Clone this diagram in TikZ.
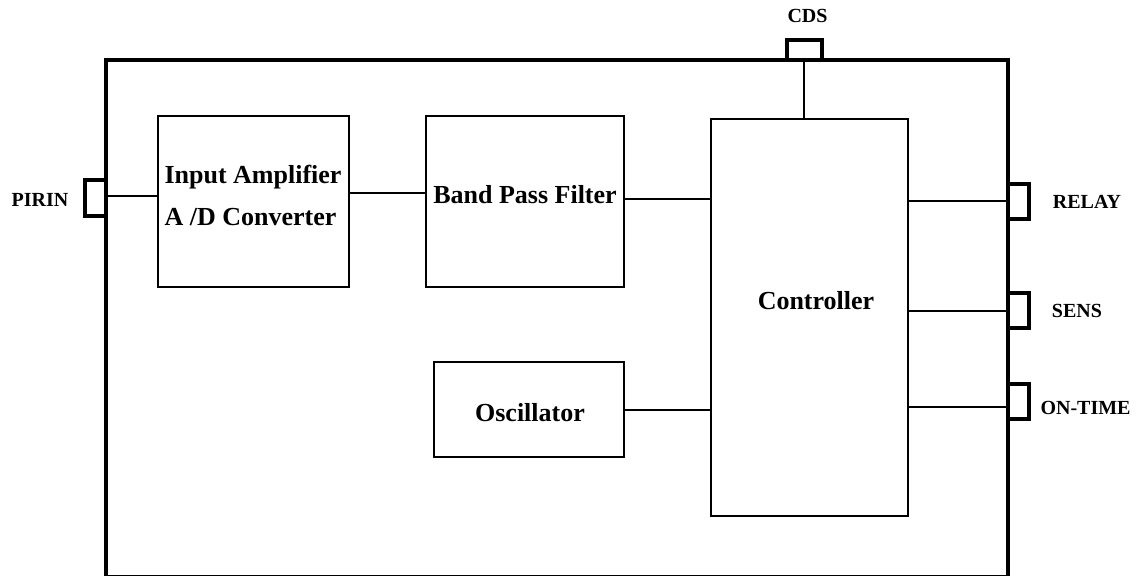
\documentclass[tikz,border=0pt]{standalone}
\usepackage{fontspec}
\setmainfont{Liberation Serif}
\begin{document}
\begin{tikzpicture}[x=1pt,y=-1pt,line join=miter,
  blk/.style={draw,line width=2pt,minimum width=#1},
  txt/.style={font=\fontsize{26}{42}\selectfont\bfseries,inner sep=0pt},
  pintxt/.style={font=\fontsize{20}{24}\selectfont\bfseries,inner sep=0pt},
  pin/.style={line width=3.6pt},
  wire/.style={line width=2pt}]
\useasboundingbox (0,0) rectangle (1136,576);
% chip outline
\draw[line width=4pt] (106,60) rectangle (1008,577);
% blocks
\node[blk=191pt,minimum height=171pt] (inamp) at (253.5,201.5) {};
\node[blk=198pt,minimum height=171pt] (bpf) at (525,201.5) {};
\node[blk=197pt,minimum height=397pt] (ctrl) at (809.5,317.5) {};
\node[blk=190pt,minimum height=95pt] (osc) at (529,409.5) {};
\node[txt,align=left] at (253,195) {Input Amplifier\\A /D Converter};
\node[txt] at (525,195) {Band Pass Filter};
\node[txt] at (816,301) {Controller};
\node[txt] at (530,413) {Oscillator};
% pins
\draw[pin] (106,180)--(85,180)--(85,216)--(106,216);
\draw[pin] (787,60)--(787,40)--(822,40)--(822,60);
\foreach \ya/\yb in {184/219,293/328,384/419}
  \draw[pin] (1008,\ya)--(1029,\ya)--(1029,\yb)--(1008,\yb);
\coordinate (pirin) at (106,196);
\coordinate (cds) at (804,60);
\coordinate (relay) at (1008,201);
\coordinate (sens) at (1008,311);
\coordinate (ontime) at (1008,407);
\node[pintxt] at (40,200) {PIRIN};
\node[pintxt] at (807.5,15.5) {CDS};
\node[pintxt] at (1087,202) {RELAY};
\node[pintxt] at (1077,311) {SENS};
\node[pintxt] at (1085.5,407.5) {ON-TIME};
% wires
\coordinate (w1) at ([yshift=8.5pt]inamp.east);
\coordinate (w2) at ([yshift=2.5pt]bpf.east);
\draw[wire] (pirin) -- (pirin -| inamp.west);
\draw[wire] (w1) -- (w1 -| bpf.west);
\draw[wire] (w2) -- (w2 -| ctrl.west);
\draw[wire] (osc.east) -- (osc.east -| ctrl.west);
\draw[line width=1.6pt] (cds) -- (cds |- ctrl.north);
\foreach \p in {relay,sens,ontime}
  \draw[wire] (ctrl.east |- \p) -- (\p);
\end{tikzpicture}
\end{document}
